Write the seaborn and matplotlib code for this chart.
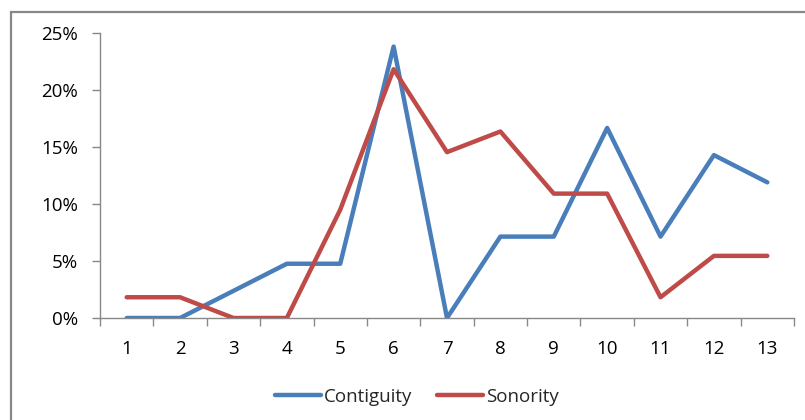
import numpy as np
import pandas as pd
import seaborn as sns
import matplotlib.pyplot as plt
from matplotlib.patches import Rectangle
from matplotlib.ticker import FixedLocator, PercentFormatter

positions = list(range(1, 14))
contiguity = [0.0, 0.0, 2.38, 4.76, 4.76, 23.81, 0.0, 7.14, 7.14, 16.67, 7.14, 14.29, 11.90]
sonority = [1.82, 1.82, 0.0, 0.0, 9.5, 21.82, 14.55, 16.36, 10.91, 10.91, 1.82, 5.45, 5.45]
series_names = ["Contiguity", "Sonority"]
series_colors = ["#4A7EBB", "#BE4B48"]

df = pd.DataFrame({
    "pos": positions * 2,
    "value": contiguity + sonority,
    "series": [series_names[0]] * 13 + [series_names[1]] * 13,
})

sns.set_style("white")
plt.rcParams['font.family'] = ['Open Sans', 'DejaVu Sans']

fig = plt.figure(figsize=(8.05, 4.2), dpi=100)
ax = fig.add_axes([100 / 805, 1 - 318 / 420, 694 / 805, 285 / 420])

# outer chart frame (cut off at right and bottom in the reference)
fig.patches.append(Rectangle((11 / 805, -0.1), 1.2, 1 - 12 / 420 + 0.1,
                             transform=fig.transFigure, fill=False,
                             edgecolor="#888888", linewidth=1.6))

sns.lineplot(data=df, x="pos", y="value", hue="series", palette=series_colors,
             linewidth=3.2, ax=ax, legend=True)

ax.set_xlim(0.5, 13.5)
ax.set_ylim(0, 25)
ax.set_xlabel("")
ax.set_ylabel("")

# tick marks on category boundaries, labels at centers
ax.xaxis.set_major_locator(FixedLocator(np.arange(0.5, 14, 1)))
ax.xaxis.set_minor_locator(FixedLocator(positions))
ax.set_xticklabels([])
ax.set_xticklabels([str(p) for p in positions], minor=True)
ax.tick_params(axis="x", which="major", direction="out", length=6, width=1, color="#888888", bottom=True)
ax.tick_params(axis="x", which="minor", length=0, pad=16, labelsize=13.5, labelcolor="black")
ax.set_yticks(np.arange(0, 26, 5))
ax.yaxis.set_major_formatter(PercentFormatter(decimals=0))
ax.tick_params(axis="y", direction="out", length=6, width=1, color="#888888", left=True,
               pad=10, labelsize=13.5, labelcolor="black")

for side in ["top", "right"]:
    ax.spines[side].set_visible(False)
for side in ["left", "bottom"]:
    ax.spines[side].set_color("#888888")
    ax.spines[side].set_linewidth(1)

handles, labels = ax.get_legend_handles_labels()
ax.legend(handles, labels, loc="center", bbox_to_anchor=(0.518, 0.055),
          bbox_transform=fig.transFigure, ncol=2, frameon=False, fontsize=13.5,
          handlelength=2.45, handletextpad=0.15, columnspacing=1.3)

fig.savefig("out.png", dpi=100)
